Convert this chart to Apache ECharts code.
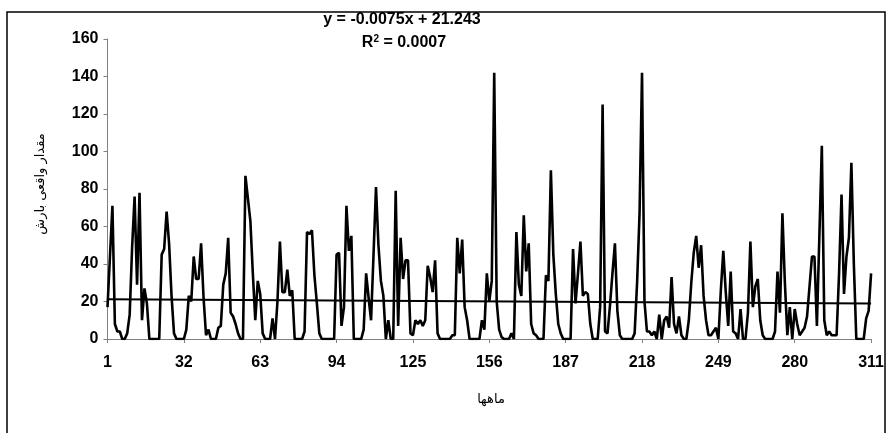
<!DOCTYPE html>
<html>
<head>
<meta charset="utf-8">
<script src="https://cdn.jsdelivr.net/npm/echarts@6/dist/echarts.min.js"></script>
<style>
html,body{margin:0;padding:0;background:#fff;}
#chart{width:887px;height:433px;}
</style>
</head>
<body>
<div id="chart"></div>
<script>
// Monthly precipitation values (months 1..311)
const values = [
  17, 44, 71, 8, 4, 4, 0, 0, 3, 13,
  49, 76, 29, 78, 10, 27, 19, 0, 0, 0,
  0, 0, 45, 48, 68, 51, 23, 3, 0, 0,
  0, 0, 5, 23, 20, 44, 32, 32, 51, 22,
  2, 5, 0, 0, 0, 6, 7, 29, 35, 54,
  14, 12, 8, 3, 0, 0, 87, 75, 63, 35,
  10, 31, 24, 3, 0, 0, 0, 11, 0, 20,
  52, 25, 25, 37, 23, 26, 0, 0, 0, 0,
  4, 57, 56, 58, 34, 19, 3, 0, 0, 0,
  0, 0, 0, 45, 46, 7, 17, 71, 47, 55,
  0, 0, 0, 0, 5, 35, 22, 10, 45, 81,
  50, 31, 23, 0, 10, 0, 0, 79, 7, 54,
  32, 42, 42, 3, 2, 10, 8, 10, 7, 10,
  39, 33, 25, 42, 3, 0, 0, 0, 0, 0,
  2, 2, 54, 35, 53, 17, 10, 0, 0, 0,
  0, 0, 10, 5, 35, 20, 31, 142, 20, 5,
  1, 0, 0, 0, 3, 0, 57, 29, 23, 66,
  36, 51, 8, 3, 2, 0, 0, 0, 34, 31,
  90, 45, 24, 8, 3, 0, 0, 0, 0, 48,
  19, 35, 52, 23, 25, 24, 8, 0, 0, 0,
  17, 125, 4, 3, 18, 35, 51, 15, 2, 0,
  0, 0, 0, 0, 3, 30, 67, 142, 20, 4,
  4, 2, 4, 0, 13, 0, 10, 12, 6, 33,
  8, 3, 12, 2, 0, 0, 10, 30, 46, 55,
  38, 50, 23, 10, 2, 2, 4, 6, 0, 26,
  47, 25, 7, 36, 4, 3, 0, 16, 0, 0,
  14, 52, 17, 28, 32, 10, 2, 0, 0, 0,
  0, 4, 36, 14, 67, 30, 2, 17, 0, 16,
  8, 2, 4, 6, 12, 28, 44, 44, 7, 55,
  103, 10, 2, 4, 2, 2, 2, 35, 77, 24,
  44, 54, 94, 40, 0, 0, 0, 0, 11, 15,
  35
];
// Linear trend line end values (first and last month)
const trendEnds = [21.24, 18.91];
const yTicks = [0, 20, 40, 60, 80, 100, 120, 140, 160];
const equationText = 'y = -0.0075x + 21.243';
const r2Value = '0.0007';
const yTitle = 'مقدار واقعی بارش';
const xTitle = 'ماهها';

const categories = values.map((v, i) => String(i + 1));
const trendData = values.map((v, i) => i === 0 ? trendEnds[0] : (i === values.length - 1 ? trendEnds[1] : null));

const chart = echarts.init(document.getElementById('chart'), null, {renderer: 'canvas'});
const FONT = 'Liberation Sans, Arial, sans-serif';
const AR_FONT = 'DejaVu Sans, sans-serif';
chart.setOption({
  animation: false,
  backgroundColor: '#fff',
  grid: {left: 107.5, right: 14.5, top: 39, bottom: 94, containLabel: false},
  xAxis: {
    type: 'category',
    data: categories,
    boundaryGap: false,
    axisLine: {lineStyle: {color: '#808080', width: 1}},
    axisTick: {show: true, interval: 30, length: 4, lineStyle: {color: '#808080'}},
    axisLabel: {interval: 30, color: '#000', fontWeight: 'bold', fontSize: 16, fontFamily: FONT, margin: 16},
    splitLine: {show: false}
  },
  yAxis: {
    type: 'value',
    min: yTicks[0],
    max: yTicks[yTicks.length - 1],
    interval: 20,
    axisLine: {show: true, lineStyle: {color: '#808080', width: 1}},
    axisTick: {show: true, length: 4, lineStyle: {color: '#808080'}},
    axisLabel: {color: '#000', fontWeight: 'bold', fontSize: 16, fontFamily: FONT, margin: 9},
    splitLine: {show: false}
  },
  series: [
    {
      type: 'line',
      data: values,
      symbol: 'none',
      lineStyle: {color: '#000', width: 2.6},
      z: 3
    },
    {
      type: 'line',
      data: trendData,
      connectNulls: true,
      symbol: 'none',
      lineStyle: {color: '#000', width: 2},
      z: 4
    }
  ],
  graphic: [
    {type: 'rect', shape: {x: 7, y: 12, width: 878, height: 450}, style: {fill: 'none', stroke: '#000', lineWidth: 1.5}, silent: true},
    {type: 'text', x: 402, y: 20, style: {text: equationText, fill: '#000', font: 'bold 16px ' + FONT, textAlign: 'center', textVerticalAlign: 'middle'}},
    {type: 'text', x: 404, y: 43, style: {
      text: '{n|R}{s|2}{n| = ' + r2Value + '}',
      textAlign: 'center', textVerticalAlign: 'middle',
      rich: {
        n: {font: 'bold 16px ' + FONT, fill: '#000'},
        s: {font: 'bold 10px ' + FONT, fill: '#000', verticalAlign: 'top', padding: [0, 0, 8, 0]}
      }
    }},
    {type: 'text', x: 41, y: 184, rotation: Math.PI / 2, style: {text: yTitle, fill: '#000', font: '13px ' + AR_FONT, textAlign: 'center', textVerticalAlign: 'middle'}},
    {type: 'text', x: 491, y: 400, style: {text: xTitle, fill: '#000', font: '13px ' + AR_FONT, textAlign: 'center', textVerticalAlign: 'middle'}}
  ]
});
</script>
</body>
</html>
